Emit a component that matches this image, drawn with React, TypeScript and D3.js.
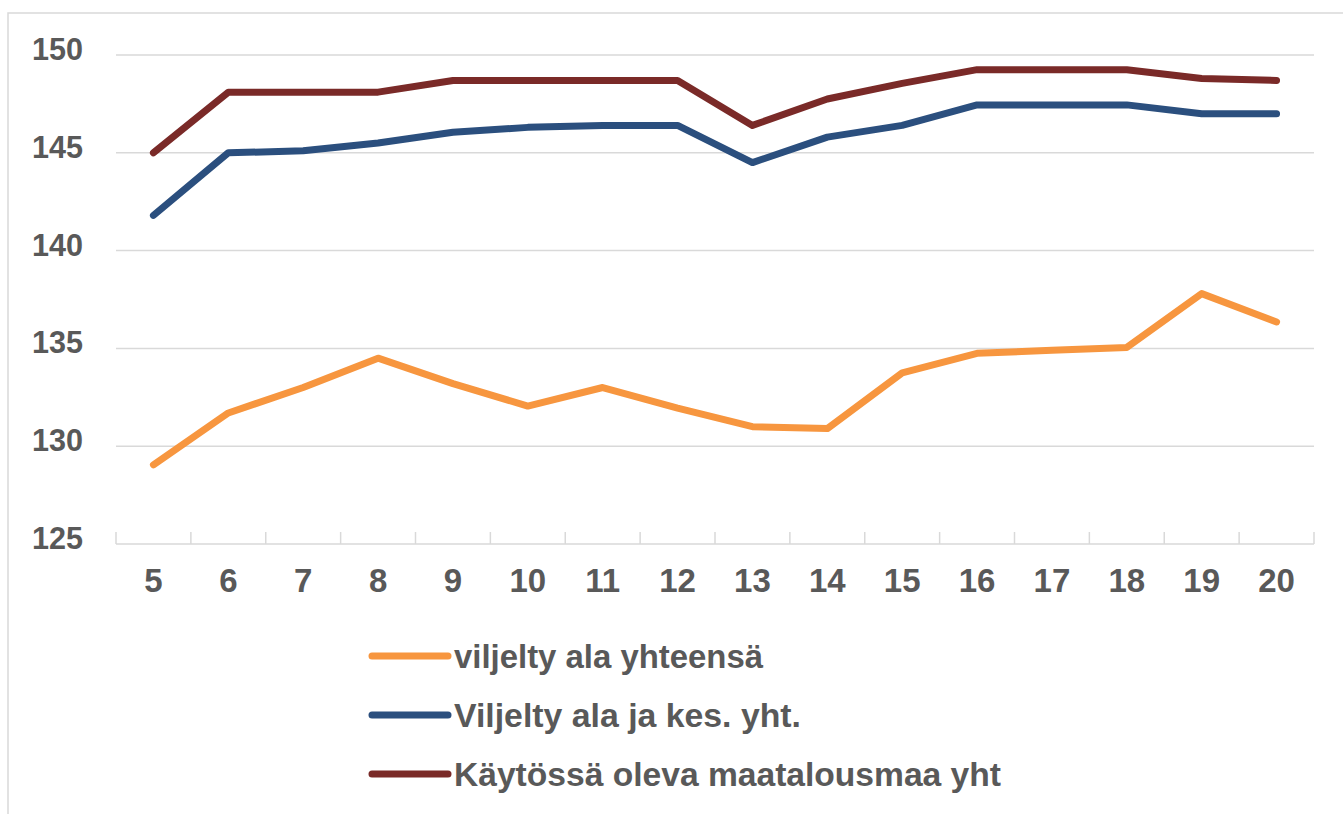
import React from "react";
import * as d3 from "d3";

const categories = ["5","6","7","8","9","10","11","12","13","14","15","16","17","18","19","20"];
const viljeltyAla = [129.05,131.7,133.0,134.5,133.2,132.05,133.0,131.95,131.0,130.9,133.75,134.75,134.9,135.05,137.8,136.35];
const viljeltyKes = [141.8,145.0,145.1,145.5,146.05,146.3,146.4,146.4,144.5,145.8,146.4,147.45,147.45,147.45,147.0,147.0];
const kaytossa = [145.0,148.1,148.1,148.1,148.7,148.7,148.7,148.7,146.4,147.75,148.55,149.25,149.25,149.25,148.8,148.7];
const yTicks = [125,130,135,140,145,150];
const seriesNames = ["viljelty ala yhteensä","Viljelty ala ja kes. yht.","Käytössä oleva maatalousmaa yht"];
const seriesColors = ["#F7963F","#2B4F7E","#7A2A28"];
const legendWidths = [309, 347, 547];

export default function App() {
  const W = 1343, H = 814;
  const x0 = 116, x1 = 1314;
  const x = d3.scalePoint<string>().domain(categories).range([x0, x1]).padding(0.5);
  const band = d3.scaleBand<string>().domain(categories).range([x0, x1]);
  const y = d3.scaleLinear().domain([125, 150]).range([544, 55]);
  const line = d3.line<number>().x((_, i) => x(categories[i]) as number).y(d => y(d));
  const series = [viljeltyAla, viljeltyKes, kaytossa];
  const font = "'Liberation Sans', Arial, sans-serif";
  const txt = "#595959";
  const tickXs = categories.map(c => band(c) as number).concat([x1]);

  return (
    <svg width={W} height={H} style={{ position: "absolute", left: 0, top: 0, background: "#fff" }}>
      <rect x={0} y={0} width={W} height={H} fill="#fff" />
      <rect x={8} y={13} width={W + 20} height={H + 20} fill="none" stroke="#D9D9D9" strokeWidth={1.5} />
      {yTicks.filter(t => t > 125).map(t => (
        <line key={t} x1={x0} x2={x1} y1={y(t)} y2={y(t)} stroke="#D9D9D9" strokeWidth={1.5} />
      ))}
      <line x1={x0} x2={x1} y1={y(125)} y2={y(125)} stroke="#D9D9D9" strokeWidth={1.5} />
      {tickXs.map((tx, i) => (
        <line key={i} x1={tx} x2={tx} y1={y(125) - 12} y2={y(125)} stroke="#D9D9D9" strokeWidth={1.5} />
      ))}
      {yTicks.map(t => (
        <text key={t} x={83} y={y(t) + 5} textAnchor="end" fontFamily={font} fontWeight="bold" fontSize={32} fill={txt} textLength={51} lengthAdjust="spacingAndGlyphs">{t}</text>
      ))}
      {categories.map(c => (
        <text key={c} x={x(c)} y={592} textAnchor="middle" fontFamily={font} fontWeight="bold" fontSize={33} fill={txt}>{c}</text>
      ))}
      {series.map((s, i) => (
        <path key={i} d={line(s) || ""} fill="none" stroke={seriesColors[i]} strokeWidth={7} strokeLinecap="round" strokeLinejoin="round" />
      ))}
      {seriesNames.map((n, i) => {
        const ly = 656 + i * 59;
        return (
          <g key={n}>
            <line x1={372} x2={448} y1={ly} y2={ly} stroke={seriesColors[i]} strokeWidth={7} strokeLinecap="round" />
            <text x={454} y={ly + 12} fontFamily={font} fontWeight="bold" fontSize={34} fill={txt} textLength={legendWidths[i]} lengthAdjust="spacingAndGlyphs">{n}</text>
          </g>
        );
      })}
    </svg>
  );
}
